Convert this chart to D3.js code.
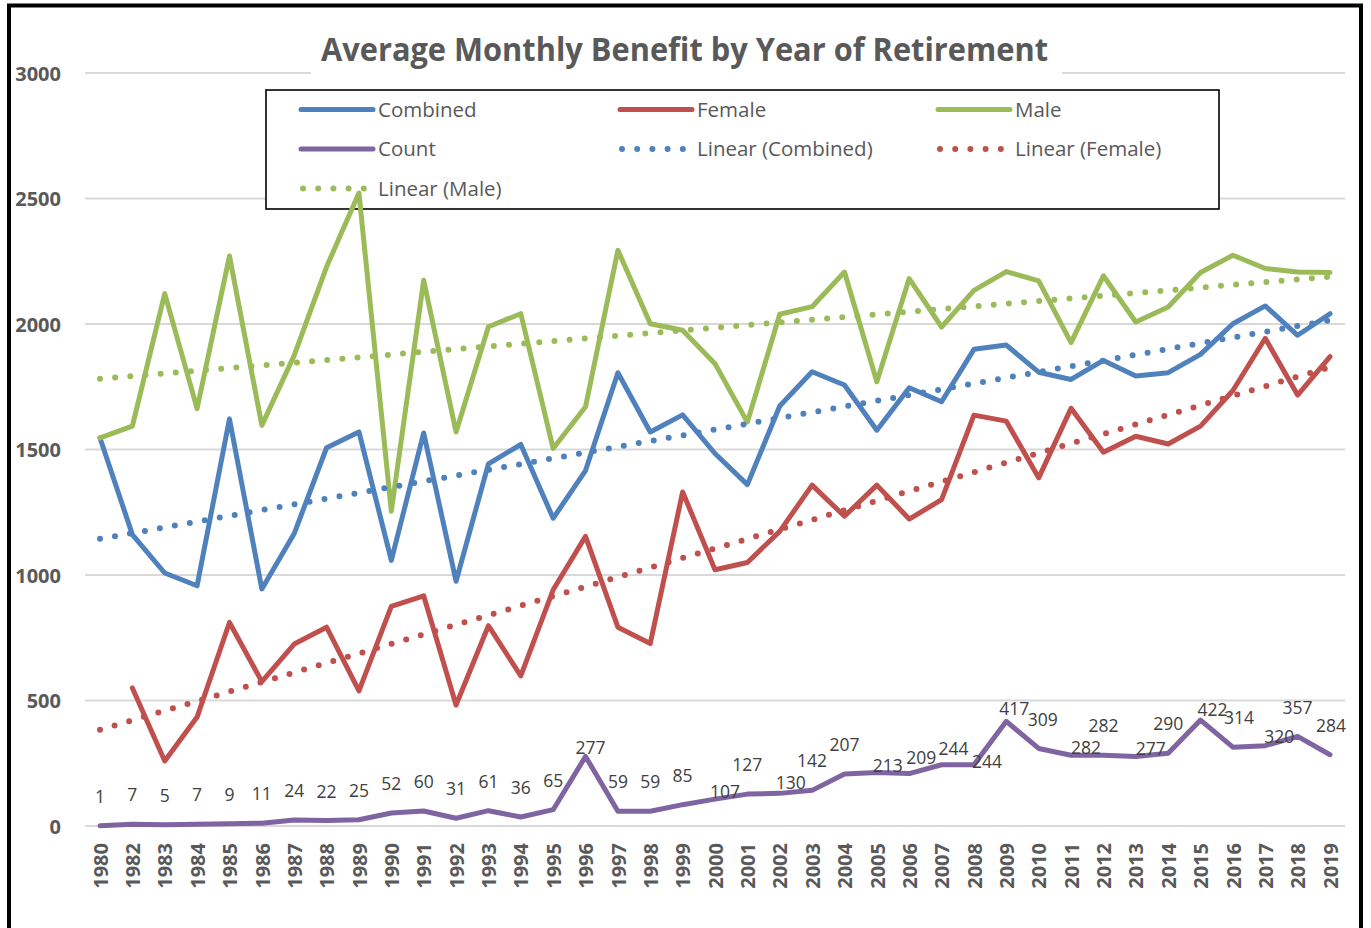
<!DOCTYPE html>
<html>
<head>
<meta charset="utf-8">
<script src="https://cdn.jsdelivr.net/npm/d3@7/dist/d3.min.js"></script>
<style>
  html, body { margin: 0; padding: 0; background: #fff; }
  svg { display: block; }
</style>
</head>
<body>
<svg id="chart" width="1371" height="928"></svg>
<script>
// ---------------- DATA ----------------
const years = ["1980","1982","1983","1984","1985","1986","1987","1988","1989","1990",
  "1991","1992","1993","1994","1995","1996","1997","1998","1999","2000",
  "2001","2002","2003","2004","2005","2006","2007","2008","2009","2010",
  "2011","2012","2013","2014","2015","2016","2017","2018","2019"];

const combined = [1546,1161,1008,957,1622,944,1165,1507,1570,1058,
  1566,975,1443,1520,1226,1416,1806,1570,1638,1484,
  1360,1673,1810,1757,1577,1746,1690,1899,1916,1808,
  1779,1855,1793,1806,1879,2001,2072,1955,2041];

const female = [null,550,259,434,811,575,725,792,538,875,
  917,482,798,598,941,1154,792,727,1331,1021,
  1050,1174,1358,1234,1358,1223,1300,1637,1613,1387,
  1664,1489,1553,1522,1593,1735,1943,1717,1870];

const male = [1546,1593,2121,1663,2271,1596,1875,2228,2522,1254,
  2174,1570,1989,2041,1504,1670,2294,2001,1975,1842,
  1609,2039,2069,2207,1770,2181,1988,2134,2209,2172,
  1926,2192,2008,2068,2205,2274,2221,2207,2205];

const count = [1,7,5,7,9,11,24,22,25,52,
  60,31,61,36,65,277,59,59,85,107,
  127,130,142,207,213,209,244,244,417,309,
  282,282,277,290,422,314,320,357,284];

const yTicks = [0,500,1000,1500,2000,2500,3000];

const titleText = "Average Monthly Benefit by Year of Retirement";

// ---------------- LAYOUT / STYLE ----------------
const W = 1371, H = 928;
const plot = { left: 100, right: 1330, top: 73, bottom: 826, gridL: 85, gridR: 1345 };
const colors = { combined: "#4F81BD", female: "#C0504D", male: "#9BBB59", count: "#8064A2" };
const axisColor = "#595959";
const textColor = "#404040";
// label nudges (pixels, relative to default "above" placement) for labels moved off their default spot
const labelNudge = { "1996":[5,20], "2000":[10,22], "2002":[11,19], "2005":[11,22], "2006":[12,13],
  "2007":[12,13], "2008":[13,26], "2009":[8,17], "2011":[15,22], "2013":[15,21], "2015":[12,19],
  "2017":[14,20], "2019":[1,0], "2010":[4,0], "2016":[6,0] };

const svg = d3.select("#chart");
const font = "'Open Sans', 'DejaVu Sans', sans-serif";

svg.append("rect").attr("width", W).attr("height", H).attr("fill", "#fff");

const x = d3.scalePoint().domain(years).range([plot.left, plot.right]).padding(0);
const y = d3.scaleLinear().domain([0, 3000]).range([plot.bottom, plot.top]);

// gridlines
svg.append("g").selectAll("line").data(yTicks).join("line")
  .attr("x1", plot.gridL).attr("x2", plot.gridR)
  .attr("y1", d => y(d)).attr("y2", d => y(d))
  .attr("stroke", "#d9d9d9").attr("stroke-width", 2);

// y axis labels
const yAxis = d3.axisLeft(y).tickValues(yTicks).tickSize(0).tickPadding(0).tickFormat(d3.format("d"));
const gy = svg.append("g").attr("transform", "translate(61,0)").call(yAxis);
gy.select(".domain").remove();
gy.selectAll("text").attr("font-family", font).attr("font-weight", 700).attr("font-size", 20)
  .attr("fill", axisColor).attr("dy", "0.35em").attr("text-anchor", "end");

// x axis labels (rotated)
const xAxis = d3.axisBottom(x).tickSize(0).tickPadding(0);
const gx = svg.append("g").attr("transform", `translate(0,${plot.bottom})`).call(xAxis);
gx.select(".domain").remove();
gx.selectAll("text")
  .attr("font-family", font).attr("font-weight", 700).attr("font-size", 20).attr("fill", axisColor)
  .attr("transform", "rotate(-90)")
  .attr("text-anchor", "end")
  .attr("x", -17).attr("y", 0).attr("dy", "0.36em");

// title
svg.append("rect").attr("x", 311).attr("y", 28).attr("width", 751).attr("height", 50).attr("fill", "#fff");
svg.append("text").attr("x", 684.5).attr("y", 61).attr("text-anchor", "middle")
  .attr("font-family", font).attr("font-weight", 700).attr("font-size", 32).attr("fill", axisColor)
  .attr("textLength", 727).attr("lengthAdjust", "spacingAndGlyphs")
  .text(titleText);

const dotted = (sel, c) => sel.attr("fill", "none").attr("stroke", c).attr("stroke-width", 6)
  .attr("stroke-linecap", "round").attr("stroke-dasharray", "0 15.2");

// legend (drawn beneath the series, as in the reference)
const lg = svg.append("g");
lg.append("rect").attr("x", 266).attr("y", 90).attr("width", 953).attr("height", 119)
  .attr("fill", "#fff").attr("stroke", "#000").attr("stroke-width", 1.6);
const legendItems = [
  { name: "Combined", c: colors.combined, dot: false },
  { name: "Female", c: colors.female, dot: false },
  { name: "Male", c: colors.male, dot: false },
  { name: "Count", c: colors.count, dot: false },
  { name: "Linear (Combined)", c: colors.combined, dot: true },
  { name: "Linear (Female)", c: colors.female, dot: true },
  { name: "Linear (Male)", c: colors.male, dot: true }
];
const colX = [301, 620, 938], rowY = [109.5, 149, 188.5];
legendItems.forEach((it, i) => {
  const cx = colX[i % 3], cy = rowY[Math.floor(i / 3)];
  const ln = lg.append("line").attr("x1", cx + (it.dot ? 2 : 0)).attr("x2", cx + 72)
    .attr("y1", cy).attr("y2", cy);
  if (it.dot) ln.call(dotted, it.c);
  else ln.attr("stroke", it.c).attr("stroke-width", 5).attr("stroke-linecap", "round");
  lg.append("text").attr("x", cx + 77).attr("y", cy).attr("dy", "0.35em")
    .attr("font-family", font).attr("font-size", 20.5).attr("fill", axisColor).text(it.name);
});

// trend lines
function trend(vals) {
  const pts = vals.map((v, i) => [i, v]).filter(p => p[1] != null);
  const mx = d3.mean(pts, p => p[0]), my = d3.mean(pts, p => p[1]);
  const sxy = d3.sum(pts, p => (p[0] - mx) * (p[1] - my));
  const sxx = d3.sum(pts, p => (p[0] - mx) ** 2);
  const b = sxy / sxx, a = my - b * mx;
  return [0, vals.length - 1].map(i => ({ year: years[i], v: a + b * i }));
}
const tline = d3.line().x(d => x(d.year)).y(d => y(d.v));

const lineGen = d3.line().defined(d => d.v != null).x(d => x(d.year)).y(d => y(d.v));
const toPts = vals => vals.map((v, i) => ({ year: years[i], v }));

const seriesList = [
  { vals: combined, c: colors.combined },
  { vals: female, c: colors.female },
  { vals: male, c: colors.male },
  { vals: count, c: colors.count }
];
seriesList.forEach(s => {
  svg.append("path").datum(toPts(s.vals)).attr("d", lineGen)
    .attr("fill", "none").attr("stroke", s.c).attr("stroke-width", 5)
    .attr("stroke-linejoin", "round").attr("stroke-linecap", "round");
});
[[combined, colors.combined], [female, colors.female], [male, colors.male]].forEach(([vals, c]) => {
  svg.append("path").datum(trend(vals)).attr("d", tline).call(dotted, c);
});

// count data labels
svg.append("g").selectAll("text").data(toPts(count)).join("text")
  .attr("x", d => x(d.year) + (labelNudge[d.year] ? labelNudge[d.year][0] : 0))
  .attr("y", d => y(d.v) - 29 + (labelNudge[d.year] ? labelNudge[d.year][1] : 0))
  .attr("dy", "0.35em")
  .attr("text-anchor", "middle")
  .attr("font-family", font).attr("font-size", 17.5).attr("fill", textColor)
  .text(d => d.v);

// outer frame
svg.append("rect").attr("x", 9).attr("y", 5.5).attr("width", 1352).attr("height", 940)
  .attr("fill", "none").attr("stroke", "#000").attr("stroke-width", 4);
</script>
</body>
</html>
